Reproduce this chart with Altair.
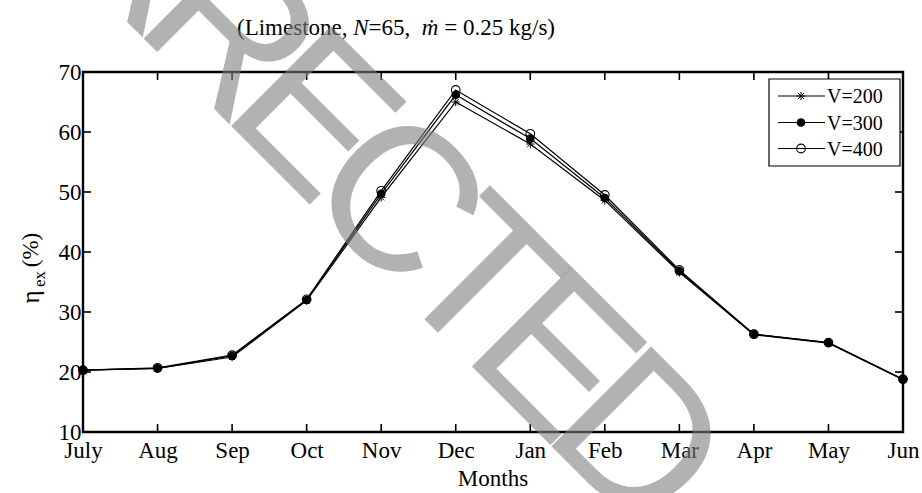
import math
import altair as alt
import pandas as pd

# Exergy efficiency by month for three air velocities
months = ["July", "Aug", "Sep", "Oct", "Nov", "Dec", "Jan", "Feb", "Mar", "Apr", "May", "Jun"]
v200 = [20.3, 20.6, 22.5, 31.9, 49.1, 65.0, 58.0, 48.6, 36.6, 26.2, 24.8, 18.7]
v300 = [20.3, 20.6, 22.7, 32.0, 49.7, 66.2, 58.9, 49.0, 36.8, 26.3, 24.9, 18.8]
v400 = [20.3, 20.7, 22.8, 32.1, 50.2, 67.0, 59.7, 49.5, 37.0, 26.3, 24.9, 18.8]
series_names = ["V=200", "V=300", "V=400"]
y_ticks = [10, 20, 30, 40, 50, 60, 70]

W, H = 820, 360
SERIF = "Liberation Serif"
ASTERISK = "M-1,0L1,0M0,-1L0,1M-0.72,-0.72L0.72,0.72M-0.72,0.72L0.72,-0.72"

one = pd.DataFrame({"k": [0]})

x_scale = alt.Scale(type="point", padding=0)
y_scale = alt.Scale(domain=[10, 70], nice=False, zero=False)

x_axis = alt.Axis(title=None, labelFont=SERIF, labelFontSize=23, labelAngle=0,
                  labelPadding=7, ticks=False, domain=False, grid=False,
                  labelColor="black", labelFontWeight="normal")
y_axis = alt.Axis(title=None, values=y_ticks, labelFont=SERIF, labelFontSize=23,
                  labelPadding=2, ticks=False, domain=False, grid=False,
                  labelColor="black", labelFontWeight="normal")

X = alt.X("month:N", sort=months, scale=x_scale, axis=x_axis)
Y = alt.Y("eta:Q", scale=y_scale, axis=y_axis)


def series_df(vals):
    return pd.DataFrame({"month": months, "eta": vals})


layers = []

# series lines and markers (these carry both axes)
for vals in [v200, v300, v400]:
    layers.append(alt.Chart(series_df(vals)).mark_line(color="black", strokeWidth=1.2).encode(x=X, y=Y))

layers.append(alt.Chart(series_df(v400)).mark_point(
    shape="circle", filled=False, stroke="black", strokeWidth=1.1, size=75, opacity=1).encode(x=X, y=Y))
layers.append(alt.Chart(series_df(v200)).mark_point(
    shape=ASTERISK, filled=False, stroke="black", strokeWidth=1.0, size=70, opacity=1).encode(x=X, y=Y))
layers.append(alt.Chart(series_df(v300)).mark_point(
    shape="circle", filled=True, fill="black", size=75, opacity=1).encode(x=X, y=Y))

# inward tick marks on all four sides
mdf = pd.DataFrame({"month": months})
ydf = pd.DataFrame({"eta": y_ticks})
layers.append(alt.Chart(mdf).mark_rule(color="black", strokeWidth=1.6).encode(
    x=X, y=alt.value(H), y2=alt.value(H - 8)))
layers.append(alt.Chart(mdf).mark_rule(color="black", strokeWidth=1.6).encode(
    x=X, y=alt.value(0), y2=alt.value(8)))
layers.append(alt.Chart(ydf).mark_rule(color="black", strokeWidth=1.6).encode(
    y=Y, x=alt.value(0), x2=alt.value(8)))
layers.append(alt.Chart(ydf).mark_rule(color="black", strokeWidth=1.6).encode(
    y=Y, x=alt.value(W), x2=alt.value(W - 8)))

# legend box
LX0, LX1, LY0, LY1 = 686, 817, 7, 94
layers.append(alt.Chart(one).mark_rect(fill="white", stroke="black", strokeWidth=1.2).encode(
    x=alt.value(LX0), x2=alt.value(LX1), y=alt.value(LY0), y2=alt.value(LY1)))
entry_y = [24, 50.5, 76.5]
for ey in entry_y:
    layers.append(alt.Chart(one).mark_rule(color="black", strokeWidth=1.2).encode(
        x=alt.value(695), x2=alt.value(742), y=alt.value(ey)))
layers.append(alt.Chart(one).mark_point(
    shape=ASTERISK, filled=False, stroke="black", strokeWidth=1.0, size=70, opacity=1).encode(
    x=alt.value(718), y=alt.value(entry_y[0])))
layers.append(alt.Chart(one).mark_point(
    shape="circle", filled=True, fill="black", size=75, opacity=1).encode(
    x=alt.value(718), y=alt.value(entry_y[1])))
layers.append(alt.Chart(one).mark_point(
    shape="circle", filled=False, stroke="black", strokeWidth=1.1, size=75, opacity=1).encode(
    x=alt.value(718), y=alt.value(entry_y[2])))
for name, ey in zip(series_names, entry_y):
    layers.append(alt.Chart(one).mark_text(
        text=name, font=SERIF, fontSize=20, align="left", baseline="middle", color="black").encode(
        x=alt.value(744), y=alt.value(ey + 1)))

# title with italic symbols
title_parts = [
    ("(Limestone,", "normal", 154.0),
    ("N", "italic", 270.3),
    ("=65,", "normal", 285.6),
    ("ṁ", "italic", 338.8),
    ("=", "normal", 361.2),
    ("0.25 kg/s)", "normal", 380.0),
]
for txt, style, tx in title_parts:
    layers.append(alt.Chart(one).mark_text(
        text=txt, font=SERIF, fontSize=23, fontStyle=style, align="left",
        baseline="middle", color="black").encode(x=alt.value(tx), y=alt.value(-44)))

# axis titles
layers.append(alt.Chart(one).mark_text(
    text="Months", font=SERIF, fontSize=23, align="center", baseline="middle", color="black").encode(
    x=alt.value(W / 2), y=alt.value(H + 47)))
layers.append(alt.Chart(one).mark_text(
    text="η", font=SERIF, fontSize=25, angle=270, align="center", baseline="middle", color="black").encode(
    x=alt.value(-52), y=alt.value(225)))
layers.append(alt.Chart(one).mark_text(
    text="ex", font=SERIF, fontSize=17, angle=270, align="center", baseline="middle", color="black").encode(
    x=alt.value(-43), y=alt.value(207)))
layers.append(alt.Chart(one).mark_text(
    text="(%)", font=SERIF, fontSize=23, angle=270, align="center", baseline="middle", color="black").encode(
    x=alt.value(-52), y=alt.value(178)))

# "CORRECTED" stamp: tightly tracked letters along a 45-degree diagonal
STAMP = "CORRECTED"
STAMP_ADV = [0.722, 0.778, 0.722, 0.722, 0.667, 0.722, 0.611, 0.667, 0.722]  # em advances
STAMP_SIZE = 205
TRACK = 0.83
ANGLE = 45
REF = 5              # the second "C"
cx, cy = 312, 130    # anchor of the reference letter
ux, uy = math.cos(math.radians(ANGLE)), math.sin(math.radians(ANGLE))
centers = []
acc = 0.0
for adv in STAMP_ADV:
    centers.append(acc + adv / 2)
    acc += adv
for ch, c in zip(STAMP, centers):
    d = (c - centers[REF]) * STAMP_SIZE * TRACK
    layers.append(alt.Chart(one).mark_text(
        text=ch, font="Liberation Sans", fontSize=STAMP_SIZE, angle=ANGLE, align="center",
        baseline="middle", fill="#7f7f7f", opacity=0.6).encode(
        x=alt.value(cx + d * ux), y=alt.value(cy + d * uy)))

chart = alt.layer(*layers).properties(
    width=W, height=H,
    autosize=alt.AutoSizeParams(type="none"),
    padding={"left": 83, "top": 72, "right": 19, "bottom": 61},
    background="white",
).configure_view(stroke="black", strokeWidth=2.4)

chart.save("out.html", embed_options={"renderer": "svg", "actions": False})
